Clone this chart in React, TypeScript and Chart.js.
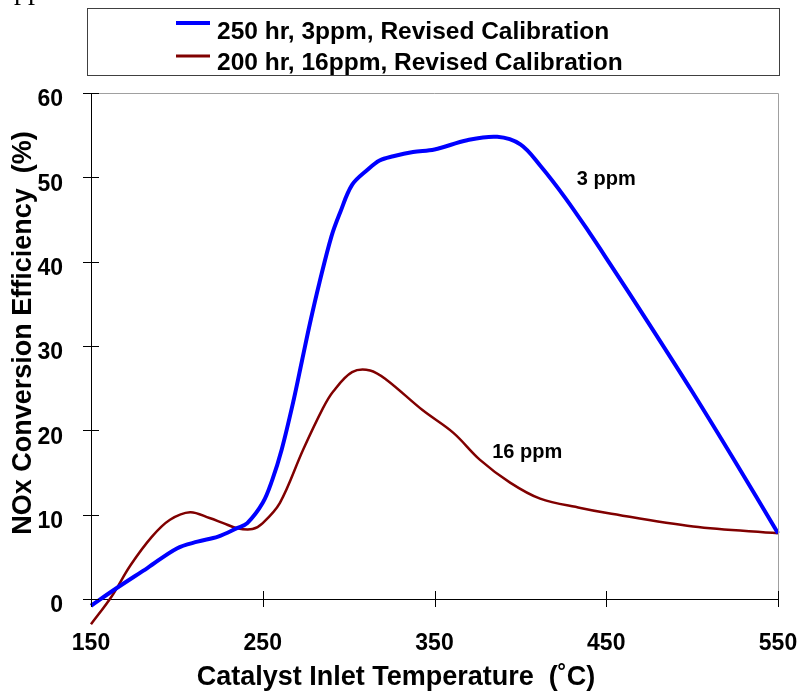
import React, { useEffect, useRef } from "react";
import { Chart, registerables } from "chart.js";

Chart.register(...registerables);

// Series 1: 250 hr, 3ppm
const tempBlue = [150, 165, 183, 200, 212, 224, 235, 241, 250, 255.5, 261, 268, 273, 277.5, 283, 290, 295, 302, 311, 318, 326, 337.5, 350, 369, 386.5, 400, 411.5, 426, 440, 452, 475, 500, 525, 550];
const effBlue = [-0.8, 1.3, 3.7, 6.0, 6.8, 7.4, 8.4, 9.0, 11.4, 14.1, 17.7, 23.6, 28.4, 32.7, 37.5, 43, 45.8, 49.1, 50.9, 52, 52.5, 53, 53.3, 54.4, 54.8, 53.9, 51.4, 47.6, 43.5, 39.8, 32.6, 24.6, 16.3, 7.8];

// Series 2: 200 hr, 16ppm
const tempRed = [150, 162, 173, 185.5, 196, 207.7, 219, 227, 235, 244, 250, 260, 273.5, 285, 291, 302, 312.5, 322, 343, 361, 376.5, 394, 411.5, 435, 450.5, 500.6, 550];
const effRed = [-3.0, 0.3, 4.0, 7.4, 9.4, 10.3, 9.6, 9.0, 8.4, 8.3, 9.0, 11.4, 17.7, 22.6, 24.6, 26.9, 27.1, 26.0, 22.4, 19.7, 16.5, 13.8, 11.9, 10.8, 10.2, 8.6, 7.8];

const seriesLabels = ["250 hr, 3ppm, Revised Calibration", "200 hr, 16ppm, Revised Calibration"];
const xTicks = [150, 250, 350, 450, 550];
const yTicks = [0, 10, 20, 30, 40, 50, 60];
const xTitle = "Catalyst Inlet Temperature  (\u02DAC)";
const yTitle = "NOx Conversion Efficiency  (%)";
const annoText = ["3 ppm", "16 ppm"];
const annoX = [450, 404];
const annoY = [49.7, 17.4];

const FONT = '"Liberation Sans", Arial, sans-serif';

const decorPlugin = {
  id: "decor",
  afterDraw(chart: any) {
    const ctx = chart.ctx;
    const { left, right, top, bottom } = chart.chartArea;
    const xs = chart.scales.x;
    const ys = chart.scales.y;
    ctx.save();
    // top/right frame
    ctx.strokeStyle = "#a0a0a0";
    ctx.lineWidth = 1;
    ctx.beginPath();
    ctx.moveTo(left, top + 0.5);
    ctx.lineTo(right + 0.5, top + 0.5);
    ctx.lineTo(right + 0.5, bottom);
    ctx.stroke();
    // ticks crossing axes
    ctx.strokeStyle = "#000";
    ctx.beginPath();
    xTicks.forEach((v) => {
      const px = Math.round(xs.getPixelForValue(v)) + 0.5;
      ctx.moveTo(px, bottom - 8);
      ctx.lineTo(px, bottom + 8);
    });
    yTicks.forEach((v) => {
      const py = Math.round(ys.getPixelForValue(v)) + 0.5;
      ctx.moveTo(left - 8, py);
      ctx.lineTo(left + 8, py);
    });
    ctx.stroke();
    // axis titles
    ctx.fillStyle = "#000";
    ctx.font = `bold 27px ${FONT}`;
    ctx.textAlign = "center";
    ctx.textBaseline = "middle";
    ctx.fillText(xTitle, 396, 678);
    ctx.save();
    ctx.translate(24, 333);
    ctx.rotate(-Math.PI / 2);
    ctx.fillText(yTitle, 0, 0);
    ctx.restore();
    // annotations
    ctx.font = `bold 20px ${FONT}`;
    annoText.forEach((t, i) => {
      ctx.fillText(t, xs.getPixelForValue(annoX[i]), ys.getPixelForValue(annoY[i]));
    });
    // legend
    ctx.strokeStyle = "#404040";
    ctx.lineWidth = 1;
    ctx.strokeRect(87.5, 8.5, 692, 67);
    const lineY = [23, 56];
    const textY = [39, 70];
    const widths = [4, 3];
    ctx.textAlign = "left";
    ctx.textBaseline = "alphabetic";
    ctx.font = `bold 24.5px ${FONT}`;
    chart.data.datasets.forEach((ds: any, i: number) => {
      ctx.strokeStyle = ds.borderColor;
      ctx.lineWidth = widths[i];
      ctx.beginPath();
      ctx.moveTo(176, lineY[i]);
      ctx.lineTo(210, lineY[i]);
      ctx.stroke();
      ctx.fillStyle = "#000";
      ctx.fillText(ds.label, 217, textY[i]);
    });
    ctx.restore();
  },
};

export default function App() {
  const ref = useRef<HTMLCanvasElement>(null);
  useEffect(() => {
    if (!ref.current) return;
    const chart = new Chart(ref.current, {
      type: "line",
      data: {
        datasets: [
          {
            label: seriesLabels[0],
            data: tempBlue.map((t, i) => ({ x: t, y: effBlue[i] })),
            borderColor: "#0000ff",
            borderWidth: 4,
            pointRadius: 0,
            tension: 0.35,
            clip: false as any,
          },
          {
            label: seriesLabels[1],
            data: tempRed.map((t, i) => ({ x: t, y: effRed[i] })),
            borderColor: "#800000",
            borderWidth: 2.5,
            pointRadius: 0,
            tension: 0.35,
            clip: false as any,
          },
        ],
      },
      options: {
        animation: false,
        responsive: false,
        devicePixelRatio: 1,
        layout: { padding: { left: 0, top: 93, right: 23, bottom: 0 } },
        plugins: { legend: { display: false }, tooltip: { enabled: false } },
        scales: {
          x: {
            type: "linear",
            min: 150,
            max: 550,
            afterBuildTicks: (s: any) => {
              s.ticks = xTicks.map((v) => ({ value: v }));
            },
            afterFit: (s: any) => {
              s.height = 95;
              s.paddingLeft = 0;
              s.paddingRight = 0;
            },
            grid: { display: false },
            border: { display: true, color: "#000", width: 1 },
            ticks: {
              padding: 23,
              color: "#000",
              font: { family: FONT, size: 23, weight: "bold" },
              maxRotation: 0,
            },
          },
          y: {
            type: "linear",
            min: 0,
            max: 60,
            afterBuildTicks: (s: any) => {
              s.ticks = yTicks.map((v) => ({ value: v }));
            },
            afterFit: (s: any) => {
              s.width = 91;
              s.paddingTop = 0;
              s.paddingBottom = 0;
            },
            grid: { display: false },
            border: { display: true, color: "#000", width: 1 },
            ticks: {
              padding: 20,
              labelOffset: 7,
              color: "#000",
              font: { family: FONT, size: 23, weight: "bold" },
            },
          },
        },
      },
      plugins: [decorPlugin],
    });
    return () => chart.destroy();
  }, []);
  return (
    <div style={{ position: "absolute", left: 0, top: 0, width: 801, height: 694, background: "#fff" }}>
      <div style={{ position: "absolute", left: 14, top: 0, height: 9, width: 40, overflow: "hidden" }}>
        <span style={{ position: "absolute", left: 0, top: -24, fontFamily: '"Liberation Serif", serif', fontSize: 28, lineHeight: 1 }}>pp</span>
      </div>
      <canvas ref={ref} width={801} height={694} style={{ display: "block", width: 801, height: 694 }} />
    </div>
  );
}
